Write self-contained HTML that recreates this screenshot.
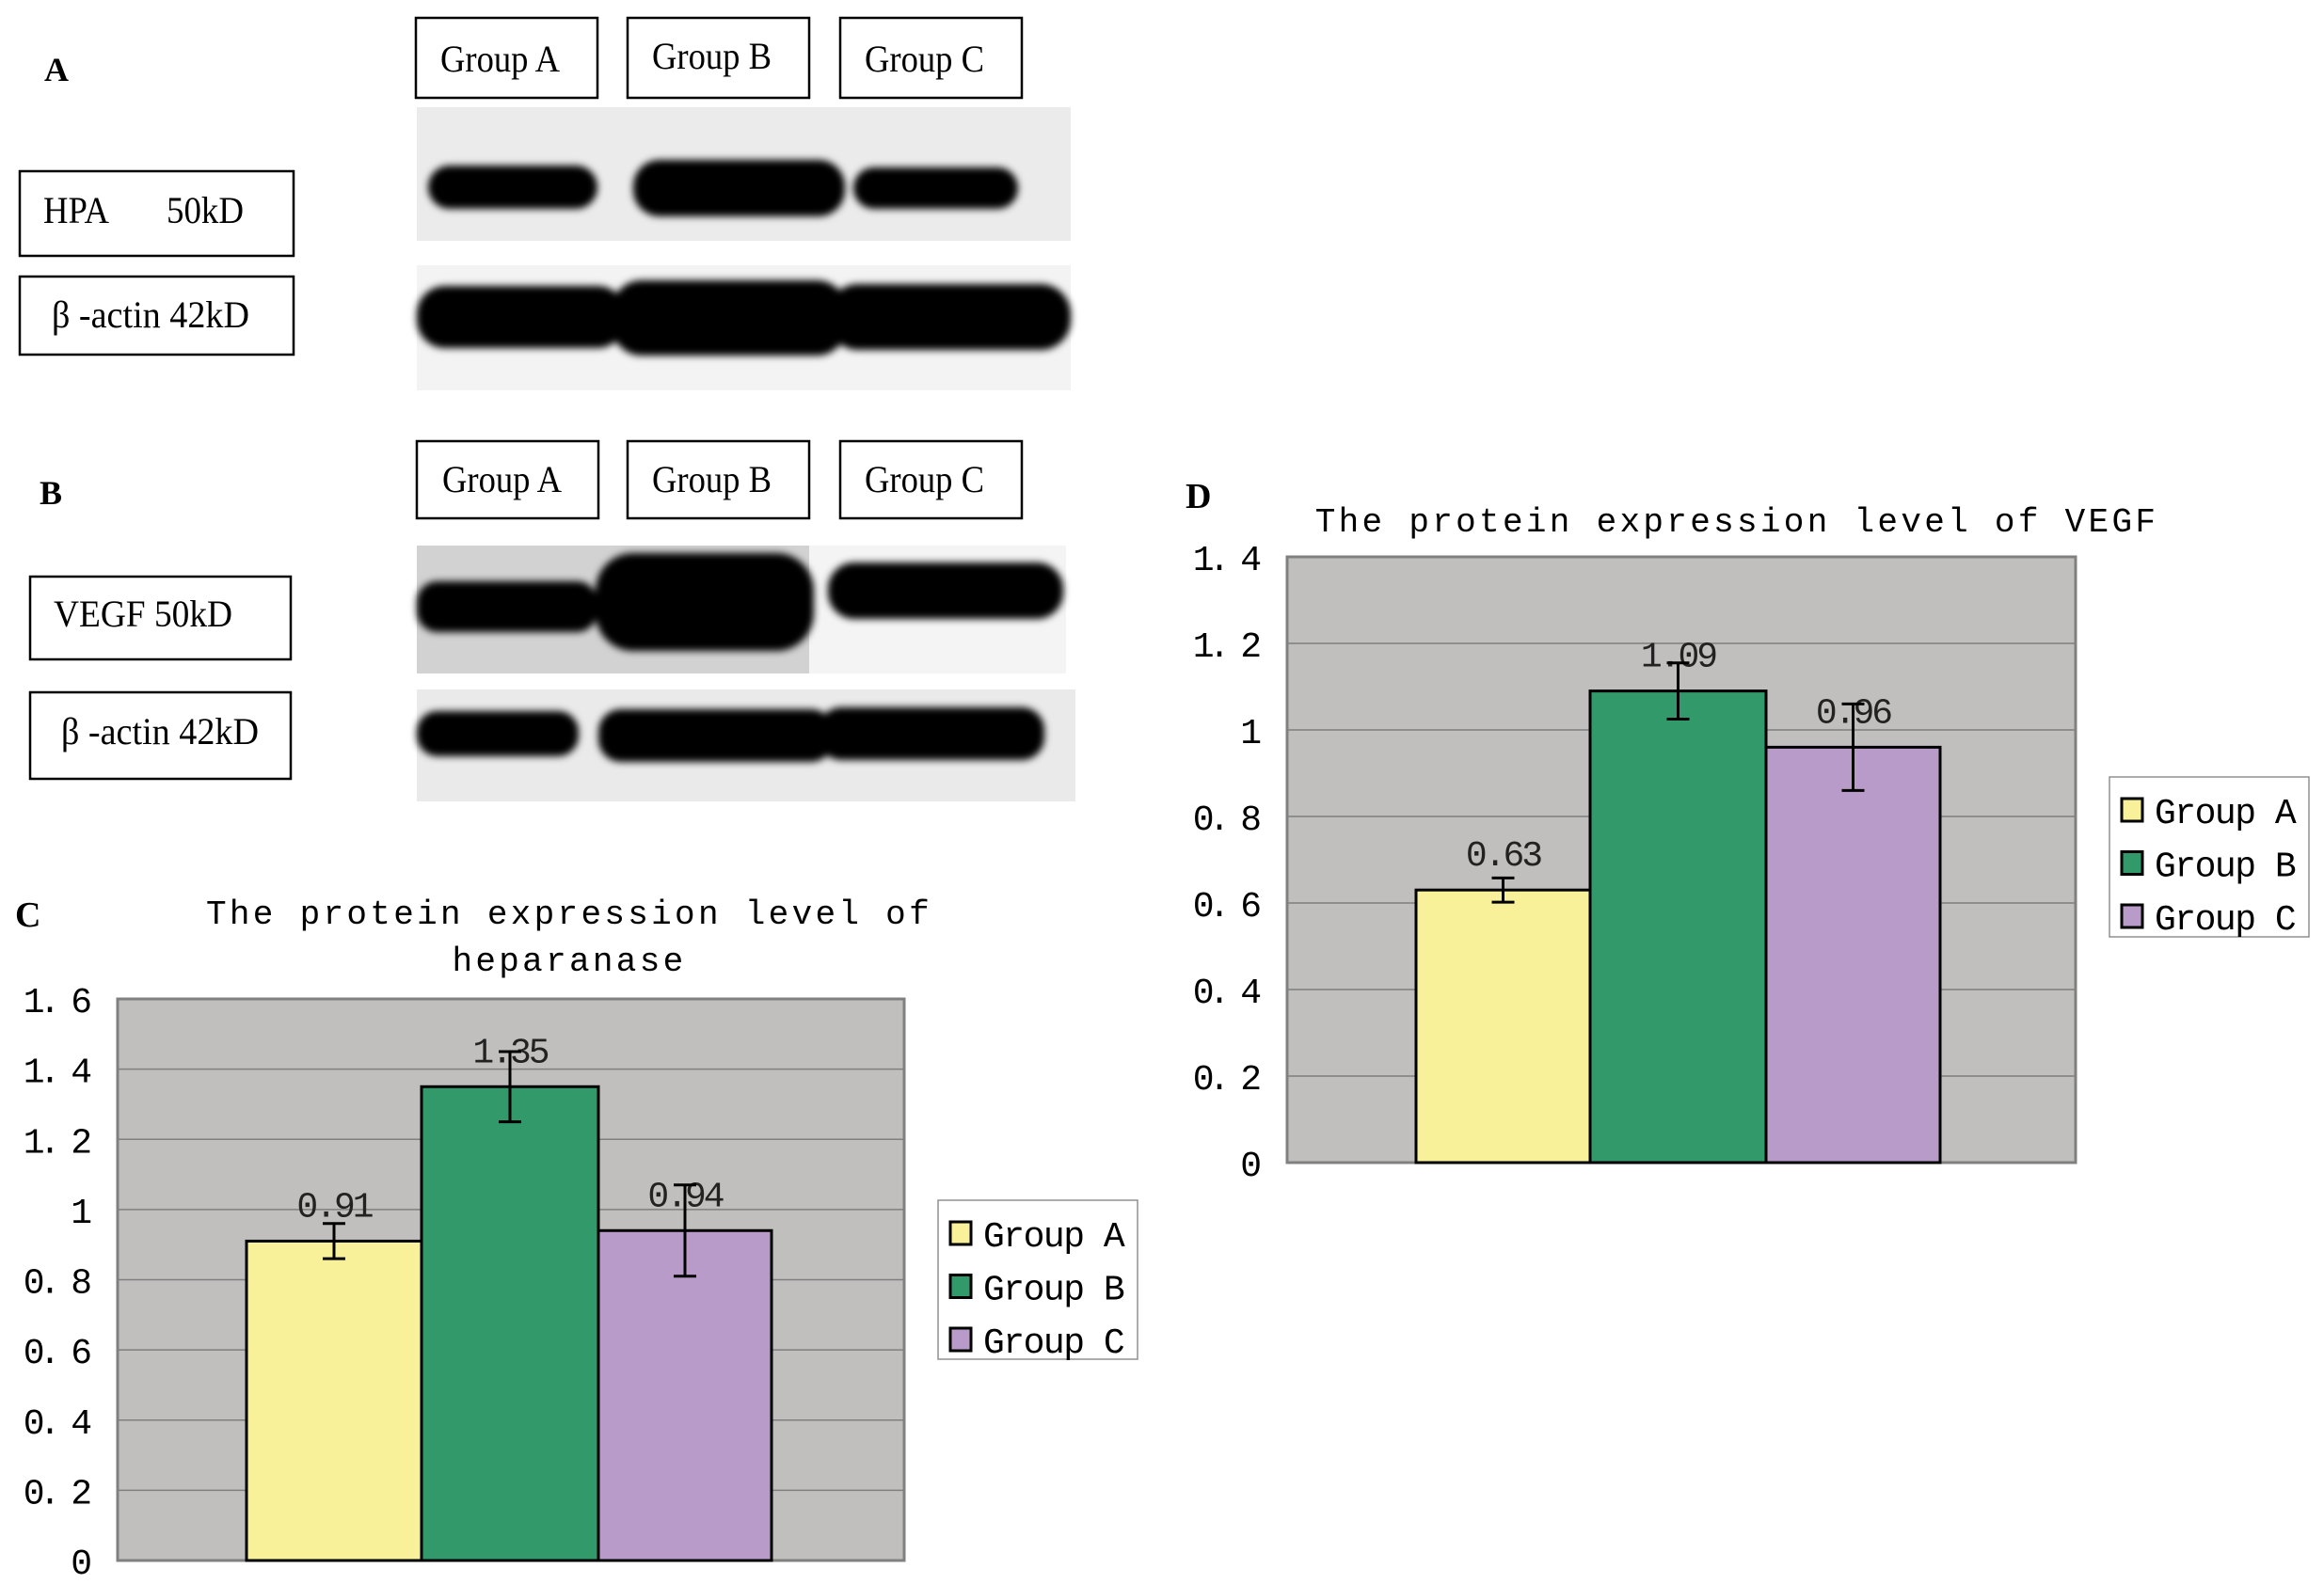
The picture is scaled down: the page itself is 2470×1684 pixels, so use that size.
<!DOCTYPE html>
<html><head><meta charset="utf-8"><style>
html,body{margin:0;padding:0;background:#fff;}
svg{display:block;}
.mono{font-family:"Liberation Mono","Noto Sans CJK SC",monospace;}
.serif{font-family:"Liberation Serif",serif;}
</style></head><body>
<svg id="fig" width="2470" height="1684" viewBox="0 0 2470 1684" xmlns="http://www.w3.org/2000/svg">
<defs>
<filter id="blur" x="-10%" y="-50%" width="120%" height="200%"><feGaussianBlur stdDeviation="4"/></filter>
</defs>
<g>
<text x="47" y="86" class="serif" font-size="36" font-weight="bold">A</text>
<g fill="none" stroke="#000" stroke-width="2.5">
<rect x="442" y="19" width="193" height="85"/>
<rect x="667" y="19" width="193" height="85"/>
<rect x="893" y="19" width="193" height="85"/>
<rect x="21" y="182" width="291" height="90"/>
<rect x="21" y="294" width="291" height="83"/>
</g>
<g class="serif" font-size="40" fill="#000">
<text x="468" y="76" textLength="127" lengthAdjust="spacingAndGlyphs">Group A</text>
<text x="693" y="73" textLength="127" lengthAdjust="spacingAndGlyphs">Group B</text>
<text x="919" y="76" textLength="127" lengthAdjust="spacingAndGlyphs">Group C</text>
<text x="46" y="237" textLength="70" lengthAdjust="spacingAndGlyphs">HPA</text>
<text x="177" y="237" textLength="82" lengthAdjust="spacingAndGlyphs">50kD</text>
<text x="55" y="348" textLength="210" lengthAdjust="spacingAndGlyphs">β -actin 42kD</text>
</g>
<rect x="443" y="114" width="695" height="142" fill="#ebebeb"/>
<g fill="#050505" filter="url(#blur)">
<rect x="455" y="176" width="180" height="46" rx="23"/>
<rect x="673" y="170" width="225" height="60" rx="28"/>
<rect x="907" y="178" width="175" height="44" rx="22"/>
</g>
<rect x="443" y="282" width="695" height="133" fill="#f3f3f3"/>
<g fill="#030303" filter="url(#blur)">
<rect x="443" y="304" width="222" height="66" rx="30"/>
<rect x="650" y="298" width="250" height="80" rx="32"/>
<rect x="880" y="302" width="258" height="70" rx="32"/>
</g>
</g>
<g>
<text x="42" y="536" class="serif" font-size="36" font-weight="bold">B</text>
<g fill="none" stroke="#000" stroke-width="2.5">
<rect x="443" y="469" width="193" height="82"/>
<rect x="667" y="469" width="193" height="82"/>
<rect x="893" y="469" width="193" height="82"/>
<rect x="32" y="613" width="277" height="88"/>
<rect x="32" y="736" width="277" height="92"/>
</g>
<g class="serif" font-size="40" fill="#000">
<text x="470" y="523" textLength="127" lengthAdjust="spacingAndGlyphs">Group A</text>
<text x="693" y="523" textLength="127" lengthAdjust="spacingAndGlyphs">Group B</text>
<text x="919" y="523" textLength="127" lengthAdjust="spacingAndGlyphs">Group C</text>
<text x="57" y="666" textLength="190" lengthAdjust="spacingAndGlyphs">VEGF 50kD</text>
<text x="65" y="791" textLength="210" lengthAdjust="spacingAndGlyphs">β -actin 42kD</text>
</g>
<rect x="443" y="580" width="690" height="136" fill="#d2d2d2"/>
<rect x="860" y="580" width="273" height="136" fill="#f4f4f4"/>
<g fill="#030303" filter="url(#blur)">
<rect x="443" y="618" width="192" height="54" rx="22"/>
<rect x="633" y="588" width="232" height="104" rx="40"/>
<rect x="880" y="598" width="250" height="60" rx="28"/>
</g>
<rect x="443" y="733" width="700" height="119" fill="#eaeaea"/>
<g fill="#030303" filter="url(#blur)">
<rect x="443" y="756" width="172" height="48" rx="22"/>
<rect x="636" y="754" width="250" height="56" rx="24"/>
<rect x="870" y="752" width="240" height="56" rx="24"/>
</g>
</g>
<g id="chartC"></g>
<g id="chartD"></g>
<text x="16" y="985" font-family="Liberation Serif,serif" font-size="38" font-weight="bold">C</text>
<text x="1260" y="540" font-family="Liberation Serif,serif" font-size="38" font-weight="bold">D</text>
<g font-family="Liberation Mono,monospace" font-size="36" text-anchor="middle" letter-spacing="3.3">
<text x="605" y="982">The protein expression level of</text>
<text x="605" y="1032">heparanase</text>
<text x="1846" y="565">The protein expression level of VEGF</text>
</g>
</svg>
<script>
const groups = ["Group A","Group B","Group C"];
const colors = ["#f8f19a","#31996a","#b89bc8"];
const hpaValues = [0.91, 1.35, 0.94];
const hpaErrors = [0.05, 0.10, 0.13];
const hpaTicks = ["0","0.2","0.4","0.6","0.8","1","1.2","1.4","1.6"];
const vegfValues = [0.63, 1.09, 0.96];
const vegfErrors = [0.028, 0.065, 0.10];
const vegfTicks = ["0","0.2","0.4","0.6","0.8","1","1.2","1.4"];
const NS="http://www.w3.org/2000/svg";
function mk(tag, attrs, parent, text){
  const e=document.createElementNS(NS,tag);
  for(const k in attrs) e.setAttribute(k,attrs[k]);
  if(text!==undefined) e.textContent=text;
  parent.appendChild(e); return e;
}
function drawChart(g, cfg){
  const {L,R,T,B,bars,ticks,vals,errs,prefix,legend}=cfg;
  const max=parseFloat(ticks[ticks.length-1]);
  const y=v=>B-(v/max)*(B-T);
  const plot=mk('rect',{x:L,y:T,width:R-L,height:B-T,fill:'#c0bfbe',stroke:'#808080','stroke-width':3},g);
  
  
  ticks.forEach((t,i)=>{
    const v=parseFloat(t), yy=y(v);
    if(i>0 && i<ticks.length-1){
      const ln=mk('line',{x1:L,x2:R,y1:yy,y2:yy,stroke:'#7f7f7f','stroke-width':1.5},g);
      
      
    }
    const tx=mk('text',{x:L-33,y:yy+14,'text-anchor':'end','font-size':38,class:'mono','letter-spacing':-6},g,t.replace('.','. '));
    
    
  });
  vals.forEach((v,i)=>{
    const x0=bars[i], x1=bars[i+1];
    const r=mk('rect',{x:x0,y:y(v),width:x1-x0,height:B-y(v),fill:colors[i],stroke:'#000','stroke-width':3},g);
    
    
    const cx=(x0+x1)/2;
    const lb=mk('text',{x:cx,y:y(v)-26,'text-anchor':'middle','font-size':38,class:'mono','letter-spacing':-3,fill:'#222'},g,v.toFixed(2));
    
    
    const e=errs[i], eg=mk('g',{stroke:'#000','stroke-width':3},g);
    
    
    mk('line',{x1:cx,x2:cx,y1:y(v+e),y2:y(v-e)},eg);
    mk('line',{x1:cx-12,x2:cx+12,y1:y(v+e),y2:y(v+e)},eg);
    mk('line',{x1:cx-12,x2:cx+12,y1:y(v-e),y2:y(v-e)},eg);
  });
  const lg=mk('g',{},g);
  
  
  mk('rect',{x:legend.x,y:legend.y,width:legend.w,height:legend.h,fill:'#fff',stroke:'#909090','stroke-width':1.5},lg);
  groups.forEach((gname,i)=>{
    const yy=legend.y+35+i*56.5;
    const en=mk('g',{},lg);
    
    
    mk('rect',{x:legend.x+13,y:yy-12,width:22,height:24,fill:colors[i],stroke:'#000','stroke-width':3},en);
    mk('text',{x:legend.x+48,y:yy+14,'font-size':38,class:'mono','letter-spacing':-1.5},en,gname.replace(' ','  '));
  });
}
drawChart(document.getElementById('chartC'),{L:125,R:961,T:1062,B:1659,bars:[262,448,636,820],ticks:hpaTicks,vals:hpaValues,errs:hpaErrors,prefix:'hpa',legend:{x:997,y:1276,w:212,h:169}});
drawChart(document.getElementById('chartD'),{L:1368,R:2206,T:592,B:1236,bars:[1505,1690,1877,2062],ticks:vegfTicks,vals:vegfValues,errs:vegfErrors,prefix:'vegf',legend:{x:2242,y:826,w:212,h:170}});
</script>
</body></html>
